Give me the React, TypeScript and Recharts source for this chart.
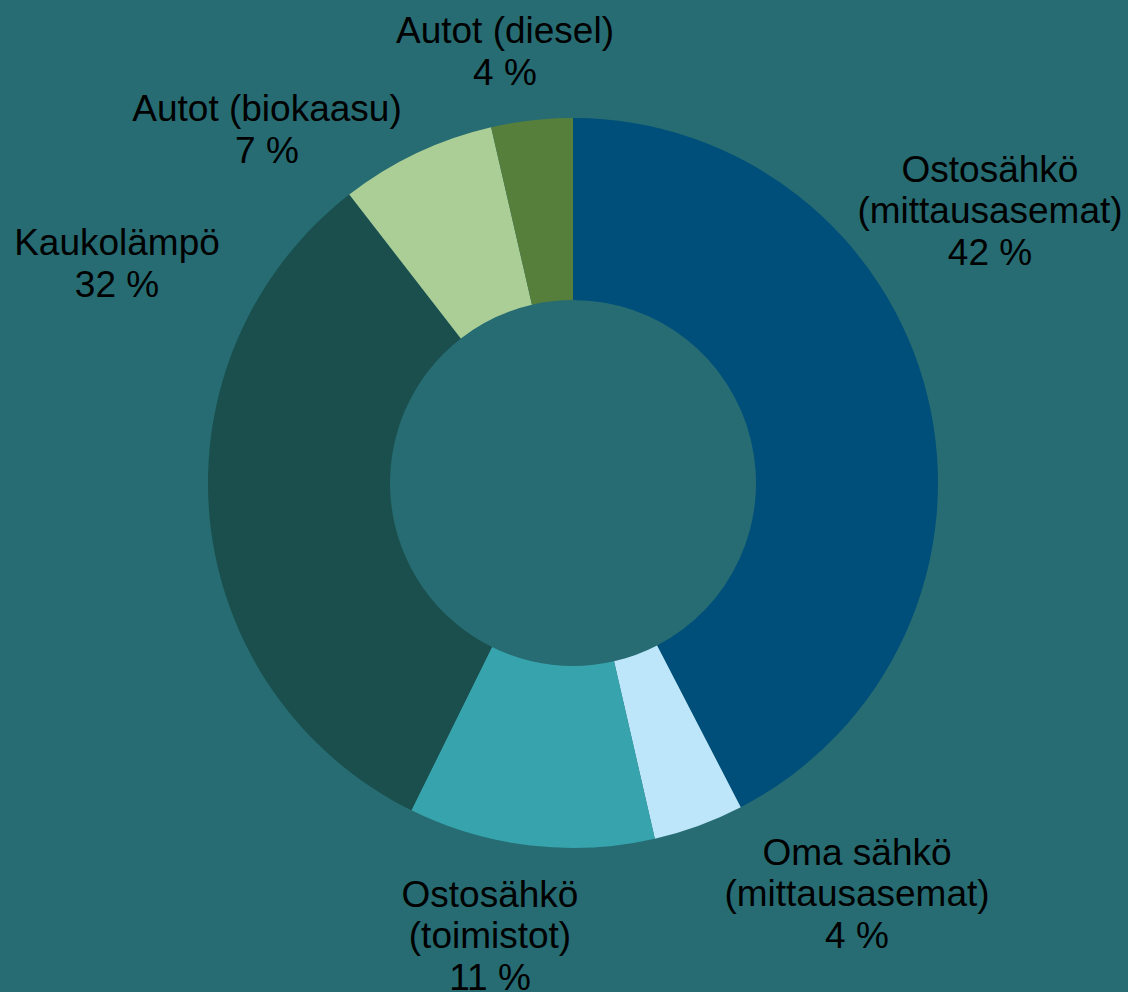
import { PieChart, Pie, Cell } from 'recharts';

const categories = [
    'Ostosähkö (mittausasemat)',
    'Oma sähkö (mittausasemat)',
    'Ostosähkö (toimistot)',
    'Kaukolämpö',
    'Autot (biokaasu)',
    'Autot (diesel)',
];
const shares = [42.4, 4.0, 10.9, 32.2, 6.9, 3.6];
const labelLines = [
    ['Ostosähkö', '(mittausasemat)', '42 %'],
    ['Oma sähkö', '(mittausasemat)', '4 %'],
    ['Ostosähkö', '(toimistot)', '11 %'],
    ['Kaukolämpö', '32 %'],
    ['Autot (biokaasu)', '7 %'],
    ['Autot (diesel)', '4 %'],
];

const colors = ['#004f7a', '#bde6fb', '#37a3ad', '#1a4f4d', '#abce96', '#567f3c'];
// label block centre, relative to the pie centre
const labelOffsets = [
    [417, -273],
    [284, 410],
    [-83, 452],
    [-456, -220],
    [-306, -354],
    [-68, -432],
];

const data = categories.map((name, i) => ({ name, value: shares[i] }));

const BG = '#266c72';
const LINE_H = 41.5;

function renderLabel(props: any) {
    const { cx, cy, index } = props;
    const lines = labelLines[index];
    const [dx, dy] = labelOffsets[index];
    const x = cx + dx;
    const top = cy + dy - ((lines.length - 1) * LINE_H) / 2;
    return (
        <text
            x={x}
            y={top}
            textAnchor="middle"
            dominantBaseline="central"
            fill="#000000"
            fontSize={37}
            fontFamily="'Liberation Sans', Arial, sans-serif"
        >
            {lines.map((l, i) => (
                <tspan key={i} x={x} y={top + i * LINE_H}>
                    {l}
                </tspan>
            ))}
        </text>
    );
}

export default function App() {
    return (
        <div style={{ position: 'absolute', left: 0, top: 0, width: 1128, height: 992, background: BG, overflow: 'hidden' }}>
            <PieChart width={1128} height={992} margin={{ top: 0, right: 0, bottom: 0, left: 0 }}>
                <Pie
                    data={data}
                    dataKey="value"
                    cx={573}
                    cy={483}
                    innerRadius={183}
                    outerRadius={365}
                    startAngle={90}
                    endAngle={-270}
                    stroke="none"
                    label={renderLabel}
                    labelLine={false}
                    isAnimationActive={false}
                >
                    {data.map((entry, index) => (
                        <Cell key={`cell-${index}`} fill={colors[index]} />
                    ))}
                </Pie>
            </PieChart>
        </div>
    );
}
